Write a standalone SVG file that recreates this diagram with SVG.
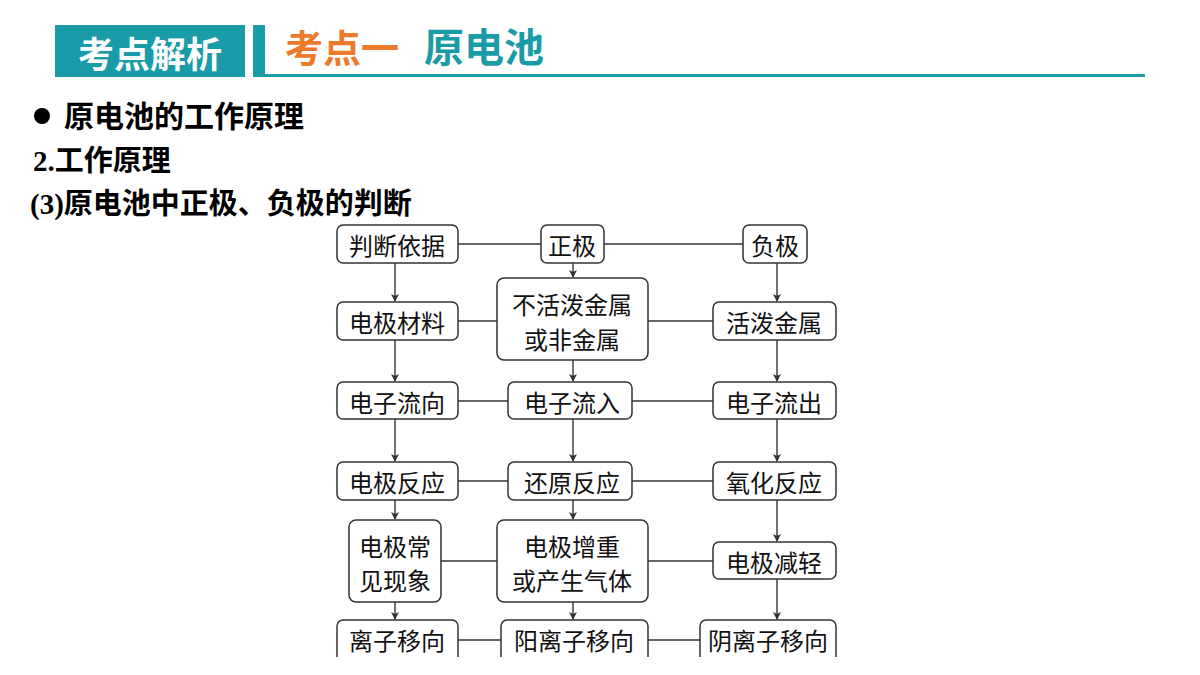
<svg xmlns="http://www.w3.org/2000/svg" width="1200" height="675" viewBox="0 0 1200 675">
<style>
.b{fill:#fff;stroke:#333;stroke-width:1.5}
.t{font-family:"Noto Sans CJK SC",sans-serif;font-size:24px;fill:#111;text-anchor:middle;dominant-baseline:central}
.h{font-family:"Noto Sans CJK SC",sans-serif;font-weight:bold}
.c line{stroke:#333;stroke-width:1.4}
.c .a{marker-end:url(#ar)}
</style>
<defs><marker id="ar" markerWidth="8" markerHeight="8" refX="7" refY="4" orient="auto" markerUnits="userSpaceOnUse"><path d="M0,0L8,4L0,8L2,4Z" fill="#333"/></marker></defs>
<rect width="1200" height="675" fill="#fff"/>
<g id="header">
<rect x="55" y="25" width="190" height="52" fill="#1a9ba8"/>
<rect x="253" y="25" width="12" height="52" fill="#1a9ba8"/>
<rect x="265" y="74" width="880" height="3" fill="#1a9ba8"/>
<text x="150" y="68" class="h" font-size="36" fill="#fff" text-anchor="middle">考点解析</text>
<text x="285" y="62" class="h" font-size="38" fill="#ec7a2c">考点一</text>
<text x="424" y="62" class="h" font-size="40" fill="#1a9ba8">原电池</text>
</g>
<g id="headings">
<circle cx="42" cy="116" r="8" fill="#000"/>
<text x="64" y="127" class="h" font-size="30">原电池的工作原理</text>
<text x="33" y="171" class="h" font-size="29"><tspan font-family="Liberation Serif">2.</tspan>工作原理</text>
<text x="30" y="214" class="h" font-size="29"><tspan font-family="Liberation Serif">(3)</tspan>原电池中正极、负极的判断</text>
</g>
<g class="c" id="connectors">
<line x1="458" y1="244" x2="541" y2="244"/><line x1="604" y1="244" x2="743" y2="244"/>
<line x1="458" y1="321" x2="497" y2="321"/><line x1="648" y1="321" x2="713" y2="321"/>
<line x1="458" y1="401" x2="508" y2="401"/><line x1="632" y1="401" x2="713" y2="401"/>
<line x1="458" y1="481" x2="508" y2="481"/><line x1="632" y1="481" x2="713" y2="481"/>
<line x1="441" y1="561" x2="497" y2="561"/><line x1="648" y1="561" x2="713" y2="561"/>
<line x1="458" y1="640" x2="501" y2="640"/><line x1="648" y1="640" x2="700" y2="640"/>
<line class="a" x1="395" y1="263" x2="395" y2="301"/>
<line class="a" x1="395" y1="340" x2="395" y2="381"/>
<line class="a" x1="395" y1="419" x2="395" y2="461"/>
<line class="a" x1="395" y1="500" x2="395" y2="519"/>
<line class="a" x1="395" y1="602" x2="395" y2="619"/>
<line class="a" x1="573" y1="263" x2="573" y2="277"/>
<line class="a" x1="573" y1="360" x2="573" y2="381"/>
<line class="a" x1="573" y1="419" x2="573" y2="461"/>
<line class="a" x1="573" y1="500" x2="573" y2="519"/>
<line class="a" x1="573" y1="602" x2="573" y2="619"/>
<line class="a" x1="777" y1="263" x2="777" y2="301"/>
<line class="a" x1="777" y1="340" x2="777" y2="381"/>
<line class="a" x1="777" y1="419" x2="777" y2="461"/>
<line class="a" x1="777" y1="500" x2="777" y2="541"/>
<line class="a" x1="777" y1="579" x2="777" y2="619"/>
</g>
<g id="n1"><rect class="b" x="337" y="225" width="121" height="38" rx="6"/><text class="t" x="397" y="244">判断依据</text></g>
<g id="n2"><rect class="b" x="541" y="225" width="63" height="38" rx="6"/><text class="t" x="572" y="244">正极</text></g>
<g id="n3"><rect class="b" x="743" y="225" width="64" height="38" rx="6"/><text class="t" x="775" y="244">负极</text></g>
<g id="n4"><rect class="b" x="337" y="302" width="121" height="38" rx="6"/><text class="t" x="397" y="321">电极材料</text></g>
<g id="n5"><rect class="b" x="497" y="278" width="151" height="82" rx="7"/><text class="t" x="572" y="303">不活泼金属</text><text class="t" x="572" y="338">或非金属</text></g>
<g id="n6"><rect class="b" x="713" y="302" width="123" height="38" rx="6"/><text class="t" x="774" y="321">活泼金属</text></g>
<g id="n7"><rect class="b" x="337" y="382" width="121" height="37" rx="6"/><text class="t" x="397" y="401">电子流向</text></g>
<g id="n8"><rect class="b" x="508" y="382" width="124" height="37" rx="6"/><text class="t" x="572" y="401">电子流入</text></g>
<g id="n9"><rect class="b" x="713" y="382" width="123" height="37" rx="6"/><text class="t" x="774" y="401">电子流出</text></g>
<g id="n10"><rect class="b" x="337" y="462" width="121" height="38" rx="6"/><text class="t" x="397" y="481">电极反应</text></g>
<g id="n11"><rect class="b" x="508" y="462" width="124" height="38" rx="6"/><text class="t" x="572" y="481">还原反应</text></g>
<g id="n12"><rect class="b" x="713" y="462" width="123" height="38" rx="6"/><text class="t" x="774" y="481">氧化反应</text></g>
<g id="n13"><rect class="b" x="349" y="520" width="92" height="82" rx="7"/><text class="t" x="395" y="545">电极常</text><text class="t" x="395" y="579">见现象</text></g>
<g id="n14"><rect class="b" x="497" y="520" width="151" height="82" rx="7"/><text class="t" x="572" y="545">电极增重</text><text class="t" x="572" y="579">或产生气体</text></g>
<g id="n15"><rect class="b" x="713" y="542" width="123" height="37" rx="6"/><text class="t" x="774" y="561">电极减轻</text></g>
<g id="n16"><path class="b" d="M337,657V626a6,6 0 0 1 6,-6H452a6,6 0 0 1 6,6V657"/><text class="t" x="397" y="639">离子移向</text></g>
<g id="n17"><path class="b" d="M501,657V626a6,6 0 0 1 6,-6H642a6,6 0 0 1 6,6V657"/><text class="t" x="574" y="639">阳离子移向</text></g>
<g id="n18"><path class="b" d="M700,657V626a6,6 0 0 1 6,-6H830a6,6 0 0 1 6,6V657"/><text class="t" x="768" y="639">阴离子移向</text></g>
</svg>
